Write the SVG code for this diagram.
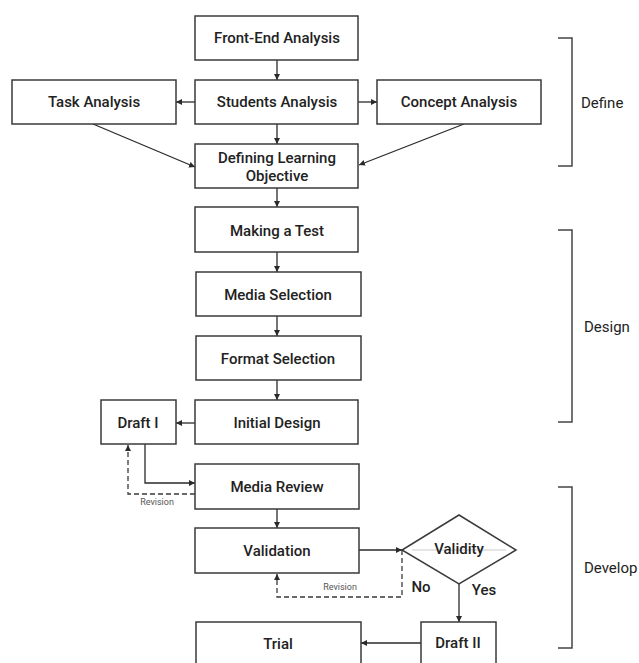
<svg xmlns="http://www.w3.org/2000/svg" width="639" height="663" viewBox="0 0 639 663">
<style>
.box{fill:#fff;stroke:#3a3a3a;stroke-width:1.5}
.lbl{font-family:Roboto,"Liberation Sans",sans-serif;font-size:15px;font-weight:500;fill:#222;text-anchor:middle;dominant-baseline:central}
.side{font-family:Roboto,"Liberation Sans",sans-serif;font-size:15px;font-weight:400;fill:#222;dominant-baseline:central}
.small{font-family:Roboto,"Liberation Sans",sans-serif;font-size:9px;fill:#555;text-anchor:middle;dominant-baseline:central}
.con{fill:none;stroke:#2a2a2a;stroke-width:1.3}
.dash{fill:none;stroke:#3a3a3a;stroke-width:1.3;stroke-dasharray:5,3}
.br{fill:none;stroke:#444;stroke-width:1.5}
</style>
<defs>
<marker id="ah" viewBox="0 0 10 10" refX="10" refY="5" markerWidth="6" markerHeight="6" orient="auto" markerUnits="userSpaceOnUse">
<path d="M0,0 L10,5 L0,10 z" fill="#2a2a2a"/>
</marker>
</defs>
<rect width="639" height="663" fill="#fff"/>
<g id="connectors">
<line class="con" x1="277" y1="60" x2="277" y2="80" marker-end="url(#ah)"/>
<line class="con" x1="195" y1="102" x2="176" y2="102" marker-end="url(#ah)"/>
<line class="con" x1="358" y1="102" x2="377" y2="102" marker-end="url(#ah)"/>
<line class="con" x1="277" y1="124" x2="277" y2="144" marker-end="url(#ah)"/>
<line class="con" x1="93" y1="124" x2="195" y2="167" marker-end="url(#ah)"/>
<line class="con" x1="464" y1="124" x2="359" y2="165" marker-end="url(#ah)"/>
<line class="con" x1="277" y1="188" x2="277" y2="207" marker-end="url(#ah)"/>
<line class="con" x1="277" y1="252" x2="277" y2="272" marker-end="url(#ah)"/>
<line class="con" x1="277" y1="316" x2="277" y2="336" marker-end="url(#ah)"/>
<line class="con" x1="277" y1="380" x2="277" y2="400" marker-end="url(#ah)"/>
<line class="con" x1="195" y1="423" x2="176" y2="423" marker-end="url(#ah)"/>
<polyline class="con" points="145,444 145,483 195,483" marker-end="url(#ah)"/>
<polyline class="dash" points="195,494 128,494 128,445" marker-end="url(#ah)"/>
<line class="con" x1="277" y1="509" x2="277" y2="528" marker-end="url(#ah)"/>
<line class="con" x1="359" y1="550" x2="402" y2="550" marker-end="url(#ah)"/>
<polyline class="dash" points="402,550 402,597 277,597 277,574" marker-end="url(#ah)"/>
<line class="con" x1="459" y1="584" x2="459" y2="622" marker-end="url(#ah)"/>
<line class="con" x1="421" y1="643" x2="361" y2="643" marker-end="url(#ah)"/>
<text class="small" x="157" y="502">Revision</text>
<text class="small" x="340" y="587">Revision</text>
<text class="lbl" x="421" y="587">No</text>
<text class="lbl" x="484" y="590">Yes</text>
</g>
<g id="n-frontend"><rect class="box" x="195" y="16" width="163" height="44"/><text class="lbl" x="277" y="38">Front-End Analysis</text></g>
<g id="n-students"><rect class="box" x="195" y="80" width="163" height="44"/><text class="lbl" x="277" y="102">Students Analysis</text></g>
<g id="n-task"><rect class="box" x="12" y="80" width="164" height="44"/><text class="lbl" x="94" y="102">Task Analysis</text></g>
<g id="n-concept"><rect class="box" x="377" y="80" width="164" height="44"/><text class="lbl" x="459" y="102">Concept Analysis</text></g>
<g id="n-defining"><rect class="box" x="195" y="144" width="163" height="44"/><text class="lbl" x="277" y="158">Defining Learning</text><text class="lbl" x="277" y="176">Objective</text></g>
<g id="n-test"><rect class="box" x="195" y="207" width="163" height="45"/><text class="lbl" x="277" y="231">Making a Test</text></g>
<g id="n-media"><rect class="box" x="196" y="272" width="165" height="44"/><text class="lbl" x="278" y="295">Media Selection</text></g>
<g id="n-format"><rect class="box" x="196" y="336" width="165" height="44"/><text class="lbl" x="278" y="359">Format Selection</text></g>
<g id="n-initial"><rect class="box" x="195" y="400" width="163" height="44"/><text class="lbl" x="277" y="423">Initial Design</text></g>
<g id="n-draft1"><rect class="box" x="101" y="400" width="75" height="44"/><text class="lbl" x="138" y="423">Draft I</text></g>
<g id="n-review"><rect class="box" x="195" y="464" width="164" height="45"/><text class="lbl" x="277" y="487">Media Review</text></g>
<g id="n-validation"><rect class="box" x="195" y="528" width="164" height="45"/><text class="lbl" x="277" y="551">Validation</text></g>
<g id="n-validity"><polygon class="box" points="459,515 516,550 459,584 402,550"/><line x1="412" y1="550" x2="506" y2="550" stroke="#ddd" stroke-width="1.5"/><text class="lbl" x="459" y="549">Validity</text></g>
<g id="n-draft2"><rect class="box" x="421" y="622" width="75" height="46"/><text class="lbl" x="458" y="643">Draft II</text></g>
<g id="n-trial"><rect class="box" x="196" y="622" width="165" height="46"/><text class="lbl" x="278" y="644">Trial</text></g>
<g id="phase-define"><polyline class="br" points="558,38 572,38 572,166 558,166"/><text class="side" x="581" y="103">Define</text></g>
<g id="phase-design"><polyline class="br" points="558,230 572,230 572,422 558,422"/><text class="side" x="584" y="327">Design</text></g>
<g id="phase-develop"><polyline class="br" points="558,487 572,487 572,648 558,648"/><text class="side" x="584" y="568">Develop</text></g>
</svg>
